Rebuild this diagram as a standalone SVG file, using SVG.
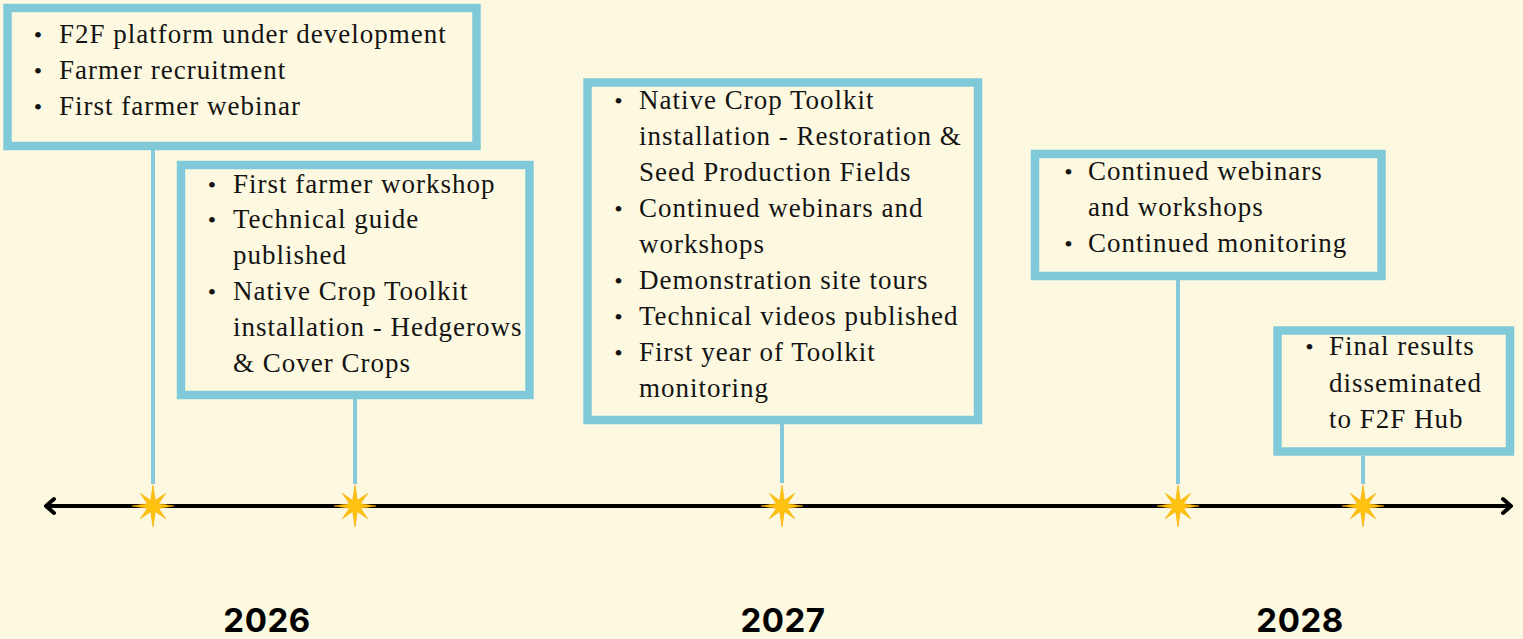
<svg xmlns="http://www.w3.org/2000/svg" width="1523" height="639" viewBox="0 0 1523 639">
<style>
.bg{fill:#FDF9E0}
.box{fill:#FDF9E0;stroke:#80C9D9;stroke-width:8.5}
.conn{stroke:#84CADA;stroke-width:4;fill:none}
.axis{stroke:#000;stroke-width:4;fill:none}
.star{fill:#FFC20E;stroke:#F6A800;stroke-width:0.6}
.t{font-family:"Liberation Serif","Times New Roman",serif;font-size:27px;letter-spacing:1px;fill:#141414}
.b{font-family:"Liberation Serif","Times New Roman",serif;font-size:24px;fill:#141414;text-anchor:middle}
.yr{font-family:Inter,"DejaVu Sans",sans-serif;font-size:33px;font-weight:700;fill:#000;text-anchor:middle;letter-spacing:0.5px}
</style>
<defs>
<marker id="chev" markerUnits="userSpaceOnUse" viewBox="-12 -10 16 20" markerWidth="16" markerHeight="20" refX="0" refY="0" orient="auto-start-reverse">
<path d="M-8,-7 L0,0 L-8,7" fill="none" stroke="#000" stroke-width="4" stroke-linecap="round" stroke-linejoin="round"/>
</marker>
<path id="starshape" d="M21,0 L5.5,2.3 L12.73,12.73 L2.3,5.5 L0,21 L-2.3,5.5 L-12.73,12.73 L-5.5,2.3 L-21,0 L-5.5,-2.3 L-12.73,-12.73 L-2.3,-5.5 L0,-21 L2.3,-5.5 L12.73,-12.73 L5.5,-2.3 Z"/>
</defs>
<rect class="bg" x="0" y="0" width="1523" height="639"/>

<g id="connectors">
<line class="conn" x1="153" y1="150" x2="153" y2="484"/>
<line class="conn" x1="355" y1="399" x2="355" y2="484"/>
<line class="conn" x1="782" y1="424" x2="782" y2="483"/>
<line class="conn" x1="1178" y1="280" x2="1178" y2="484"/>
<line class="conn" x1="1363" y1="456" x2="1363" y2="484"/>
<line class="axis" x1="46" y1="506" x2="1511" y2="506" marker-start="url(#chev)" marker-end="url(#chev)"/>
</g>

<g id="stars">
<use href="#starshape" class="star" x="153" y="506"/>
<use href="#starshape" class="star" x="355" y="506"/>
<use href="#starshape" class="star" x="782" y="506"/>
<use href="#starshape" class="star" x="1178" y="506"/>
<use href="#starshape" class="star" x="1363" y="506"/>
</g>

<g id="node1">
<rect class="box" x="7.5" y="8" width="469" height="138"/>
<text class="b" x="38" y="43">•</text><text class="t" x="59" y="43">F2F platform under development</text>
<text class="b" x="38" y="79">•</text><text class="t" x="59" y="79">Farmer recruitment</text>
<text class="b" x="38" y="115">•</text><text class="t" x="59" y="115">First farmer webinar</text>
</g>

<g id="node2">
<rect class="box" x="181" y="165" width="348.5" height="230"/>
<text class="b" x="212" y="192.5">•</text><text class="t" x="233" y="192.5">First farmer workshop</text>
<text class="b" x="212" y="228">•</text><text class="t" x="233" y="228">Technical guide</text>
<text class="t" x="233" y="264">published</text>
<text class="b" x="212" y="300">•</text><text class="t" x="233" y="300">Native Crop Toolkit</text>
<text class="t" x="233" y="336">installation - Hedgerows</text>
<text class="t" x="233" y="372">&amp; Cover Crops</text>
</g>

<g id="node3">
<rect class="box" x="587.5" y="82.5" width="390.5" height="337.5"/>
<text class="b" x="618.5" y="109">•</text><text class="t" x="639" y="109">Native Crop Toolkit</text>
<text class="t" x="639" y="145">installation - Restoration &amp;</text>
<text class="t" x="639" y="181">Seed Production Fields</text>
<text class="b" x="618.5" y="217">•</text><text class="t" x="639" y="217">Continued webinars and</text>
<text class="t" x="639" y="253">workshops</text>
<text class="b" x="618.5" y="289">•</text><text class="t" x="639" y="289">Demonstration site tours</text>
<text class="b" x="618.5" y="325">•</text><text class="t" x="639" y="325">Technical videos published</text>
<text class="b" x="618.5" y="361">•</text><text class="t" x="639" y="361">First year of Toolkit</text>
<text class="t" x="639" y="397">monitoring</text>
</g>

<g id="node4">
<rect class="box" x="1035" y="154" width="346.5" height="122"/>
<text class="b" x="1068.5" y="180">•</text><text class="t" x="1088" y="180">Continued webinars</text>
<text class="t" x="1088" y="216">and workshops</text>
<text class="b" x="1068.5" y="252">•</text><text class="t" x="1088" y="252">Continued monitoring</text>
</g>

<g id="node5">
<rect class="box" x="1277.5" y="330.5" width="232.5" height="121"/>
<text class="b" x="1309.5" y="355">•</text><text class="t" x="1329" y="355">Final results</text>
<text class="t" x="1329" y="391.5">disseminated</text>
<text class="t" x="1329" y="428">to F2F Hub</text>
</g>

<g id="years">
<text class="yr" x="267" y="632">2026</text>
<text class="yr" x="783" y="632">2027</text>
<text class="yr" x="1300" y="632">2028</text>
</g>
</svg>
